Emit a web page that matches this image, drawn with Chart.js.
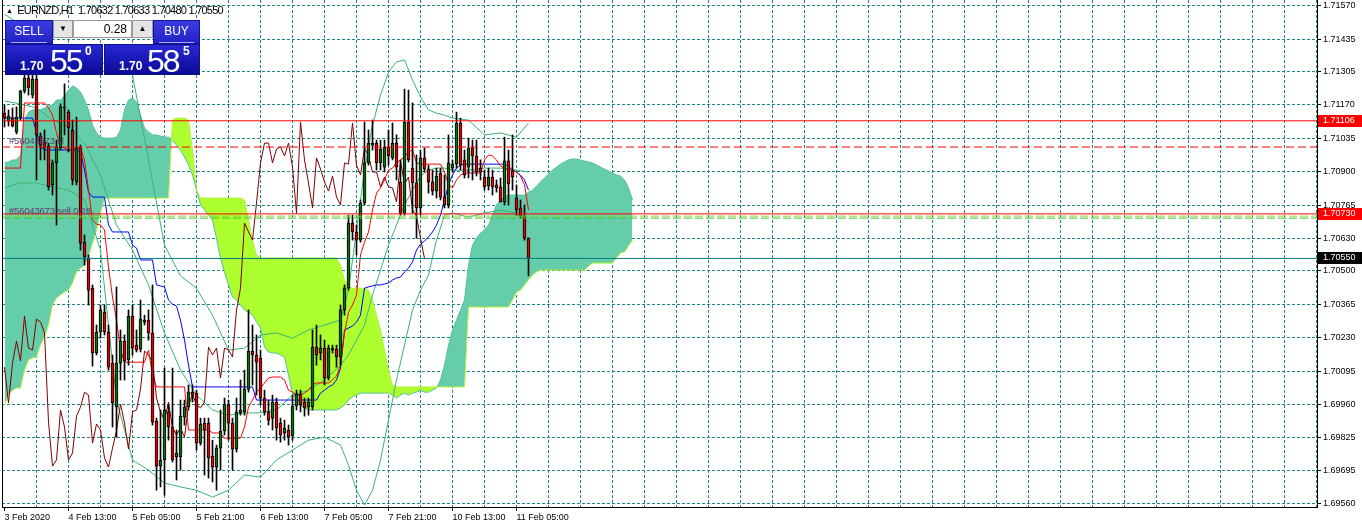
<!DOCTYPE html>
<html>
<head>
<meta charset="utf-8">
<title>EURNZD,H1</title>
<script src="https://cdn.jsdelivr.net/npm/chart.js@4.4.1/dist/chart.umd.min.js"></script>
<style>
  html, body { margin: 0; padding: 0; background: #fff; }
  #wrap { position: relative; width: 1362px; height: 527px; overflow: hidden; font-family: "Liberation Sans", Arial, sans-serif; }
  #chart { position: absolute; left: 0; top: 0; }
  .abs { position: absolute; white-space: nowrap; }
  .title { left: 6px; top: 4px; font-size: 11px; line-height: 12px; color: #000; letter-spacing: -0.75px; }
  .title .tri { font-size: 7px; vertical-align: 1px; margin-right: 5px; }
  .btn { background: linear-gradient(#3b3be4, #2222c6); color: #fff; font-size: 12px; text-align: center; line-height: 21px; border: 1px solid #12129a; box-sizing: border-box; }
  .btn .ul { position: absolute; left: 5px; right: 5px; top: 21px; height: 1px; background: #a9a9f5; }
  .spin { background: #e4e4e4; border: 1px solid #9c9c9c; box-sizing: border-box; font-size: 8px; line-height: 16px; text-align: center; color: #000; }
  .lot { background: #fff; border: 1px solid #9c9c9c; box-sizing: border-box; font-size: 12px; line-height: 16px; text-align: right; padding-right: 4px; color: #000; }
  .big { background: linear-gradient(#2828d4, #0a0a96); color: #fff; border: 1px solid #10108a; box-sizing: border-box; }
  .big span { position: absolute; }
  .big .pre { font-size: 12px; font-weight: bold; line-height: 12px; top: 15px; }
  .big .num { font-size: 32px; line-height: 32px; top: 0px; letter-spacing: -2px; }
  .big .sup { font-size: 12px; font-weight: bold; line-height: 12px; top: 0px; }
  .trade { font-size: 9.5px; line-height: 10px; color: #5e3a6c; letter-spacing: -0.2px; }
</style>
</head>
<body>
<div id="wrap">
  <canvas id="chart" width="1362" height="527"></canvas>

  <div class="abs title"><span class="tri">&#9650;</span>EURNZD,H1&nbsp; 1.70632 1.70633 1.70480 1.70550</div>

  <div class="abs btn" style="left:5px;top:20px;width:48px;height:24px;">SELL<div class="ul"></div></div>
  <div class="abs spin" style="left:53px;top:20px;width:20px;height:18px;">&#9660;</div>
  <div class="abs lot" style="left:73px;top:20px;width:59px;height:18px;">0.28</div>
  <div class="abs spin" style="left:132px;top:20px;width:21px;height:18px;">&#9650;</div>
  <div class="abs btn" style="left:153px;top:20px;width:47px;height:24px;">BUY<div class="ul"></div></div>
  <div class="abs big" style="left:5px;top:44px;width:98px;height:31px;"><span class="pre" style="left:14px;">1.70</span><span class="num" style="left:44px;">55</span><span class="sup" style="left:79px;">0</span></div>
  <div class="abs big" style="left:104px;top:44px;width:96px;height:31px;"><span class="pre" style="left:14px;">1.70</span><span class="num" style="left:42px;">58</span><span class="sup" style="left:78px;">5</span></div>

  <div class="abs trade" style="left:9px;top:136px;">#56043673 sl</div>
  <div class="abs trade" style="left:9px;top:206px;">#56043673 sell 0.28</div>
</div>

<script>
// time axis labels, one every 16 bars
const timeLabels = ['3 Feb 2020', '4 Feb 13:00', '5 Feb 05:00', '5 Feb 21:00', '6 Feb 13:00',
  '7 Feb 05:00', '7 Feb 21:00', '10 Feb 13:00', '11 Feb 05:00'];
const timeLabelBars = [0, 16, 32, 48, 64, 80, 96, 112, 128];

// price axis labels
const priceTicks = [1.71570, 1.71435, 1.71305, 1.71170, 1.71035, 1.70900, 1.70765, 1.70630,
  1.70500, 1.70365, 1.70230, 1.70095, 1.69960, 1.69825, 1.69695, 1.69560];

// H1 candles
const open = [1.71137,1.71105,1.71117,1.71061,1.71121,1.71226,1.71279,1.71210,1.71275,1.71045,
  1.71020,1.71004,1.70847,1.70936,1.70996,1.71162,1.71141,1.71069,1.70859,1.71000,
  1.70616,1.70552,1.70430,1.70168,1.70253,1.70333,1.70253,1.70127,1.69950,1.70127,
  1.70216,1.70140,1.70317,1.70200,1.70184,1.70301,1.70301,1.70249,1.69893,1.69711,
  1.69736,1.69930,1.69869,1.69748,1.69748,1.69909,1.69950,1.70010,1.70006,1.69804,
  1.69885,1.69885,1.69752,1.69707,1.69784,1.69853,1.69958,1.69885,1.69780,1.69926,
  1.69930,1.70022,1.70176,1.70160,1.70148,1.69986,1.69930,1.69905,1.69970,1.69885,
  1.69845,1.69857,1.69833,1.69954,1.70002,1.69970,1.69950,1.69950,1.70192,1.70168,
  1.70188,1.70067,1.70188,1.70184,1.70152,1.70342,1.70430,1.70693,1.70657,1.70624,
  1.70774,1.70936,1.71008,1.71016,1.70936,1.70919,1.71000,1.70956,1.71016,1.70859,
  1.70733,1.71101,1.70915,1.70855,1.70754,1.70956,1.70911,1.70859,1.70822,1.70895,
  1.70798,1.70766,1.70915,1.70931,1.71097,1.70948,1.70919,1.70996,1.70964,1.70915,
  1.70879,1.70843,1.70879,1.70847,1.70839,1.70778,1.70944,1.70903,1.70794,1.70754,
  1.70721,1.70632];
const high = [1.71170,1.71150,1.71158,1.71162,1.71230,1.71311,1.71311,1.71311,1.71311,1.71057,
  1.71069,1.71016,1.70948,1.71028,1.71174,1.71255,1.71150,1.71109,1.71121,1.71008,
  1.70645,1.70564,1.70443,1.70281,1.70362,1.70362,1.70281,1.70160,1.70435,1.70261,
  1.70241,1.70342,1.70362,1.70261,1.70382,1.70321,1.70342,1.70443,1.69905,1.69938,
  1.70107,1.69958,1.70107,1.69857,1.69978,1.69978,1.70039,1.70039,1.70018,1.69905,
  1.69905,1.69905,1.69816,1.69796,1.69938,1.69986,1.69978,1.69905,1.69986,1.70059,
  1.70099,1.70342,1.70281,1.70241,1.70180,1.70018,1.69978,1.69998,1.69986,1.69905,
  1.69897,1.69877,1.69998,1.70018,1.70018,1.69986,1.69986,1.70261,1.70281,1.70241,
  1.70220,1.70200,1.70200,1.70200,1.70362,1.70443,1.70725,1.70725,1.70685,1.70786,
  1.71101,1.71069,1.71109,1.71028,1.71028,1.71028,1.71069,1.71097,1.71049,1.70948,
  1.71234,1.71230,1.71178,1.70968,1.70988,1.70996,1.70927,1.70907,1.70915,1.70915,
  1.70887,1.71049,1.70948,1.71141,1.71117,1.70988,1.71036,1.71028,1.71028,1.70948,
  1.70907,1.70915,1.70907,1.70867,1.70875,1.71040,1.70988,1.71049,1.70847,1.70786,
  1.70766,1.70633];
const low = [1.71081,1.71085,1.71081,1.71053,1.71109,1.71218,1.71210,1.71198,1.70867,1.70948,
  1.70948,1.70826,1.70806,1.70685,1.70988,1.71049,1.70980,1.70847,1.70847,1.70584,
  1.70523,1.70362,1.70115,1.70160,1.70228,1.70241,1.70099,1.69869,1.69828,1.70059,
  1.70059,1.70119,1.70160,1.70172,1.70172,1.70281,1.70220,1.69877,1.69614,1.69627,
  1.69594,1.69816,1.69728,1.69655,1.69695,1.69877,1.69938,1.69970,1.69776,1.69796,
  1.69675,1.69663,1.69647,1.69614,1.69695,1.69837,1.69816,1.69695,1.69768,1.69917,
  1.69917,1.70010,1.70039,1.69998,1.69958,1.69917,1.69877,1.69857,1.69816,1.69808,
  1.69816,1.69796,1.69816,1.69938,1.69930,1.69913,1.69917,1.69938,1.70119,1.70140,
  1.70039,1.70059,1.70168,1.70111,1.70119,1.70321,1.70422,1.70624,1.70564,1.70616,
  1.70766,1.70927,1.70988,1.70907,1.70907,1.70899,1.70927,1.70948,1.70867,1.70725,
  1.70725,1.70940,1.70733,1.70632,1.70725,1.70899,1.70814,1.70806,1.70794,1.70786,
  1.70754,1.70754,1.70899,1.70915,1.70907,1.70875,1.70875,1.70867,1.70883,1.70867,
  1.70826,1.70826,1.70806,1.70818,1.70778,1.70766,1.70766,1.70826,1.70725,1.70713,
  1.70624,1.70480];
const close = [1.71117,1.71125,1.71085,1.71121,1.71226,1.71279,1.71239,1.71275,1.71049,1.71008,
  1.70996,1.70839,1.70936,1.71000,1.71162,1.71158,1.71077,1.70867,1.70996,1.70612,
  1.70556,1.70422,1.70168,1.70253,1.70342,1.70253,1.70111,1.69966,1.70127,1.70216,
  1.70136,1.70317,1.70188,1.70180,1.70305,1.70293,1.70249,1.69889,1.69711,1.69736,
  1.69938,1.69869,1.69736,1.69764,1.69913,1.69950,1.70010,1.69998,1.69804,1.69881,
  1.69857,1.69744,1.69707,1.69784,1.69853,1.69962,1.69885,1.69780,1.69930,1.69938,
  1.70022,1.70176,1.70160,1.70131,1.69986,1.69930,1.69897,1.69970,1.69865,1.69837,
  1.69865,1.69828,1.69954,1.70002,1.69958,1.69946,1.69970,1.70192,1.70160,1.70188,
  1.70067,1.70188,1.70180,1.70152,1.70342,1.70430,1.70693,1.70657,1.70624,1.70774,
  1.70936,1.71016,1.71016,1.70936,1.70992,1.71000,1.70964,1.71016,1.70919,1.70733,
  1.71101,1.70948,1.70855,1.70754,1.70956,1.70911,1.70859,1.70822,1.70883,1.70798,
  1.70766,1.70936,1.70931,1.71097,1.70927,1.70887,1.70996,1.70964,1.70899,1.70899,
  1.70839,1.70879,1.70839,1.70835,1.70778,1.70944,1.70851,1.70879,1.70746,1.70721,
  1.70632,1.70550];

// Ichimoku: tenkan-sen, kijun-sen, senkou spans (26 bars ahead), chikou lag
const tenkan = [1.70915,1.70915,1.70915,1.70915,1.70915,1.71178,1.71178,1.71178,1.71178,1.71178,
  1.71178,1.71158,1.71129,1.71057,1.71000,1.70996,1.70988,1.70988,1.70996,1.70996,
  1.70948,1.70826,1.70705,1.70689,1.70685,1.70665,1.70515,1.70394,1.70301,1.70180,
  1.70131,1.70131,1.70131,1.70131,1.70131,1.70131,1.70180,1.70079,1.70031,1.70031,
  1.70031,1.70031,1.70031,1.70031,1.70031,1.70031,1.69857,1.69857,1.69857,1.69857,
  1.69857,1.69857,1.69845,1.69845,1.69845,1.69824,1.69824,1.69824,1.69824,1.69824,
  1.69869,1.69950,1.69978,1.70010,1.70027,1.70047,1.70067,1.70071,1.70071,1.70071,
  1.70059,1.70018,1.70010,1.69998,1.69998,1.70006,1.70018,1.70039,1.70047,1.70047,
  1.70047,1.70047,1.70059,1.70075,1.70119,1.70249,1.70333,1.70362,1.70402,1.70564,
  1.70616,1.70657,1.70746,1.70814,1.70835,1.70867,1.70907,1.70915,1.70936,1.70948,
  1.70960,1.70980,1.70988,1.70936,1.70931,1.70931,1.70931,1.70931,1.70931,1.70931,
  1.70899,1.70847,1.70835,1.70867,1.70887,1.70895,1.70895,1.70895,1.70895,1.70895,
  1.70948,1.70968,1.70964,1.70948,1.70923,1.70915,1.70907,1.70907,1.70899,1.70883,
  1.70847,1.70746];
const kijun = [1.71117,1.71117,1.71117,1.71117,1.71117,1.71117,1.71117,1.71117,1.71061,1.71000,
  1.70988,1.70988,1.70988,1.70988,1.70988,1.70988,1.70988,1.70988,1.70988,1.70980,
  1.70907,1.70818,1.70798,1.70798,1.70798,1.70798,1.70685,1.70657,1.70657,1.70657,
  1.70657,1.70657,1.70604,1.70592,1.70544,1.70544,1.70544,1.70544,1.70443,1.70439,
  1.70435,1.70382,1.70366,1.70358,1.70301,1.70220,1.70119,1.70031,1.70031,1.70031,
  1.70031,1.70031,1.70031,1.70031,1.70031,1.70031,1.70031,1.70031,1.70031,1.70031,
  1.70031,1.70031,1.70031,1.69978,1.69978,1.69978,1.69978,1.69978,1.69978,1.69978,
  1.69978,1.69978,1.69978,1.69978,1.69978,1.69978,1.69978,1.69978,1.69978,1.70006,
  1.70018,1.70031,1.70039,1.70059,1.70107,1.70261,1.70269,1.70277,1.70293,1.70321,
  1.70430,1.70435,1.70439,1.70443,1.70443,1.70447,1.70451,1.70463,1.70471,1.70475,
  1.70495,1.70511,1.70536,1.70584,1.70608,1.70620,1.70637,1.70657,1.70685,1.70725,
  1.70786,1.70847,1.70887,1.70915,1.70927,1.70931,1.70931,1.70931,1.70931,1.70931,
  1.70931,1.70931,1.70931,1.70931,1.70931,1.70931,1.70923,1.70907,1.70899,1.70887,
  1.70867,1.70826];
const spanA = [1.70936,1.70940,1.70948,1.70948,1.70968,1.71109,1.71141,1.71150,1.71150,1.71150,
  1.71158,1.71166,1.71170,1.71190,1.71190,1.71206,1.71230,1.71247,1.71239,1.71222,
  1.71190,1.71150,1.71089,1.71057,1.71040,1.71036,1.71036,1.71036,1.71040,1.71069,
  1.71150,1.71190,1.71198,1.71182,1.71129,1.71077,1.71061,1.71049,1.71049,1.71045,
  1.71040,1.71040,1.71028,1.71008,1.70988,1.70960,1.70927,1.70887,1.70826,1.70766,
  1.70746,1.70725,1.70705,1.70632,1.70552,1.70495,1.70443,1.70394,1.70382,1.70362,
  1.70342,1.70333,1.70321,1.70293,1.70269,1.70192,1.70172,1.70168,1.70168,1.70160,
  1.70152,1.70079,1.70006,1.69978,1.69958,1.69946,1.69938,1.69938,1.69938,1.69938,
  1.69938,1.69938,1.69938,1.69938,1.69946,1.69958,1.69978,1.69990,1.69998,1.70006,
  1.70006,1.70006,1.70006,1.70006,1.70006,1.70006,1.70006,1.69998,1.69986,1.69998,
  1.70006,1.69998,1.70006,1.70010,1.70018,1.70010,1.70010,1.70018,1.70027,1.70059,
  1.70119,1.70200,1.70261,1.70301,1.70342,1.70382,1.70523,1.70604,1.70632,1.70653,
  1.70665,1.70685,1.70725,1.70766,1.70786,1.70798,1.70806,1.70806,1.70806,1.70806,
  1.70806,1.70818,1.70826,1.70843,1.70859,1.70875,1.70891,1.70907,1.70919,1.70931,
  1.70940,1.70948,1.70952,1.70952,1.70948,1.70944,1.70940,1.70936,1.70927,1.70919,
  1.70911,1.70903,1.70895,1.70887,1.70883,1.70867,1.70835,1.70786];
const spanB = [1.69958,1.69998,1.70018,1.70027,1.70027,1.70099,1.70140,1.70148,1.70152,1.70200,
  1.70233,1.70281,1.70362,1.70390,1.70402,1.70414,1.70422,1.70451,1.70495,1.70511,
  1.70523,1.70556,1.70612,1.70665,1.70733,1.70794,1.70794,1.70794,1.70794,1.70794,
  1.70794,1.70794,1.70794,1.70794,1.70794,1.70794,1.70794,1.70794,1.70794,1.70794,
  1.70794,1.70794,1.71109,1.71117,1.71117,1.71117,1.71109,1.70988,1.70826,1.70794,
  1.70794,1.70794,1.70794,1.70794,1.70794,1.70794,1.70794,1.70794,1.70794,1.70794,
  1.70786,1.70705,1.70624,1.70564,1.70552,1.70552,1.70552,1.70552,1.70552,1.70552,
  1.70552,1.70552,1.70552,1.70552,1.70552,1.70552,1.70552,1.70552,1.70552,1.70552,
  1.70552,1.70552,1.70552,1.70552,1.70523,1.70463,1.70435,1.70430,1.70430,1.70430,
  1.70430,1.70422,1.70382,1.70321,1.70261,1.70180,1.70099,1.70039,1.70031,1.70031,
  1.70031,1.70031,1.70031,1.70031,1.70031,1.70031,1.70031,1.70031,1.70031,1.70031,
  1.70031,1.70031,1.70031,1.70031,1.70031,1.70031,1.70354,1.70354,1.70354,1.70354,
  1.70354,1.70354,1.70354,1.70354,1.70354,1.70354,1.70354,1.70382,1.70414,1.70422,
  1.70443,1.70463,1.70483,1.70495,1.70503,1.70503,1.70503,1.70503,1.70503,1.70503,
  1.70503,1.70503,1.70503,1.70503,1.70503,1.70503,1.70519,1.70531,1.70531,1.70531,
  1.70531,1.70531,1.70531,1.70552,1.70572,1.70576,1.70600,1.70624];
const chikouShift = 26;

// Bollinger bands, read at these bars
const bandBars = [0,4,8,12,16,20,24,28,32,36,40,44,48,52,56,60,64,68,72,76,80,84,
  86,88,90,92,94,96,98,100,102,104,106,108,110,112,116,120,124,128,131];
const bandUpper = [1.71537,1.71493,1.71453,1.71392,1.71344,1.71311,1.71331,1.71372,1.71291,1.70948,
  1.70604,1.70480,1.70430,1.70321,1.70180,1.70188,1.70241,1.70249,1.70228,1.70261,
  1.70281,1.70301,1.70422,1.70665,1.70907,1.71089,1.71210,1.71303,1.71344,1.71352,
  1.71271,1.71202,1.71150,1.71137,1.71129,1.71117,1.71109,1.71049,1.71057,1.71040,1.71097];
const bandMiddle = [1.71186,1.71174,1.71158,1.71109,1.71081,1.71016,1.70887,1.70685,1.70584,1.70443,
  1.70249,1.70099,1.69998,1.69938,1.69917,1.69926,1.69926,1.69938,1.69998,1.70018,
  1.70059,1.70119,1.70160,1.70220,1.70281,1.70402,1.70503,1.70604,1.70685,1.70766,
  1.70826,1.70883,1.70907,1.70915,1.70915,1.70907,1.70907,1.70915,1.70915,1.70907,1.70899];
const bandLower = [1.70835,1.70855,1.70855,1.70839,1.70826,1.70786,1.70584,1.69978,1.69736,1.69695,
  1.69643,1.69627,1.69614,1.69586,1.69614,1.69675,1.69667,1.69736,1.69776,1.69816,
  1.69828,1.69796,1.69715,1.69614,1.69554,1.69614,1.69736,1.69897,1.70059,1.70200,
  1.70342,1.70422,1.70483,1.70624,1.70725,1.70733,1.70717,1.70733,1.70746,1.70733,1.70697];

// horizontal price levels
const levelHigh = 1.71106;
const levelStop = 1.71000;
const levelAlert = 1.70730;
const levelEntry = [1.70721, 1.70713];
const levelBid = 1.70550;
const markedLevels = [1.71106, 1.70730, 1.70550];

// view
const xMin = -0.625, xMax = 328.125;
const yMin = 1.69546, yMax = 1.71594;

const col = {
  bull: '#0a700a', bear: '#e60000', wick: '#000000',
  tenkan: '#ff0000', kijun: '#0000ff', chikou: '#800000', band: '#3cb371',
  cloudUp: '#66cdaa', cloudDown: '#adff2f', edgeA: '#55c09c', edgeB: '#b4f03c',
  grid: '#1f8585', marks: ['#ff0000', '#ff0000', '#000000']
};

Chart.defaults.font.family = '"Liberation Sans", Arial, sans-serif';
Chart.defaults.font.size = 9;
Chart.defaults.color = '#000';

const pts = (arr) => arr.map((v, i) => ({x: i, y: v}));
const line = (data, color, order, extra) => Object.assign({
  type: 'line', data: data, borderColor: color, borderWidth: 1,
  pointRadius: 0, fill: false, tension: 0, order: order
}, extra || {});
const hline = (v, color, dash) => line([{x: xMin, y: v}, {x: xMax, y: v}], color, 0,
  {borderDash: dash || []});

const datasets = [
  line(pts(spanA), col.edgeA, 9, {fill: {target: 1, above: col.cloudUp, below: col.cloudDown}}),
  line(pts(spanB), col.edgeB, 8),
  line(bandBars.map((b, k) => ({x: b, y: bandUpper[k]})), col.band, 5),
  line(bandBars.map((b, k) => ({x: b, y: bandMiddle[k]})), col.band, 5),
  line(bandBars.map((b, k) => ({x: b, y: bandLower[k]})), col.band, 5),
  line(close.slice(chikouShift).map((c, i) => ({x: i, y: c})), col.chikou, 4),
  line(pts(tenkan), col.tenkan, 4),
  line(pts(kijun), col.kijun, 4),
  {
    type: 'bar', data: high.map((h, i) => ({x: i, y: [low[i], h]})),
    backgroundColor: col.wick, barThickness: 1, grouped: false, order: 3
  },
  {
    type: 'bar', data: open.map((o, i) => ({x: i, y: [o, close[i]]})),
    backgroundColor: (c) => close[c.dataIndex] >= open[c.dataIndex] ? col.bull : col.bear,
    borderColor: '#000', borderWidth: 1, borderSkipped: false, barThickness: 3,
    minBarLength: 1, grouped: false, order: 2
  },
  hline(levelHigh, '#ff0000'),
  hline(levelStop, '#ff0000', [8, 4]),
  hline(levelAlert, '#ff0000'),
  hline(levelEntry[0], '#9acd32', [8, 3]),
  hline(levelEntry[1], '#32cd32', [8, 3]),
  hline(levelBid, '#008080')
];

// left frame line and coloured price boxes on the right axis
const frame = {
  id: 'frame',
  afterDraw(chart) {
    const {ctx, chartArea: a} = chart;
    const y = chart.scales.y;
    ctx.save();
    ctx.fillStyle = '#000';
    ctx.fillRect(a.left, a.top, 1, a.bottom - a.top);
    ctx.font = '9px "Liberation Sans", Arial, sans-serif';
    ctx.textBaseline = 'middle';
    markedLevels.forEach((v, k) => {
      const py = Math.round(y.getPixelForValue(v));
      ctx.fillStyle = col.marks[k];
      ctx.fillRect(a.right + 1, py - 6, 44, 12);
      ctx.fillStyle = '#fff';
      ctx.fillText(v.toFixed(5), a.right + 6, py);
    });
    ctx.restore();
  }
};

const gridBars = [];
for (let b = 0; b <= xMax; b += 8) gridBars.push(b);

new Chart(document.getElementById('chart'), {
  type: 'bar',
  data: {datasets: datasets},
  options: {
    responsive: false,
    animation: false,
    devicePixelRatio: 1,
    events: [],
    layout: {padding: {left: 2, top: 0, right: 0, bottom: 0}},
    plugins: {legend: {display: false}, tooltip: {enabled: false}},
    scales: {
      x: {
        type: 'linear', min: xMin, max: xMax, offset: false,
        afterBuildTicks: (s) => { s.ticks = gridBars.map((v) => ({value: v})); },
        afterFit: (s) => { s.height = 20; s.paddingLeft = 0; s.paddingRight = 0; },
        grid: {
          offset: false,
          color: (c) => c.tick && c.tick.value === 0 ? 'rgba(0,0,0,0)' : col.grid,
          tickColor: (c) => c.tick && timeLabelBars.includes(c.tick.value) ? '#000' : 'rgba(0,0,0,0)',
          tickLength: 4
        },
        border: {display: true, color: '#000', dash: [3, 2]},
        ticks: {
          autoSkip: false, maxRotation: 0, align: 'start', padding: 1,
          callback: (v) => { const k = timeLabelBars.indexOf(v); return k >= 0 ? timeLabels[k] : ''; }
        }
      },
      y: {
        type: 'linear', position: 'right', min: yMin, max: yMax,
        afterBuildTicks: (s) => { s.ticks = priceTicks.map((v) => ({value: v})); },
        afterFit: (s) => { s.width = 45; s.paddingTop = 0; s.paddingBottom = 0; },
        grid: {color: col.grid, tickColor: '#000', tickLength: 4},
        border: {display: true, color: '#000', dash: [3, 2]},
        ticks: {padding: 2, crossAlign: 'near', callback: (v) => v.toFixed(5)}
      }
    }
  },
  plugins: [frame]
});
</script>
</body>
</html>
